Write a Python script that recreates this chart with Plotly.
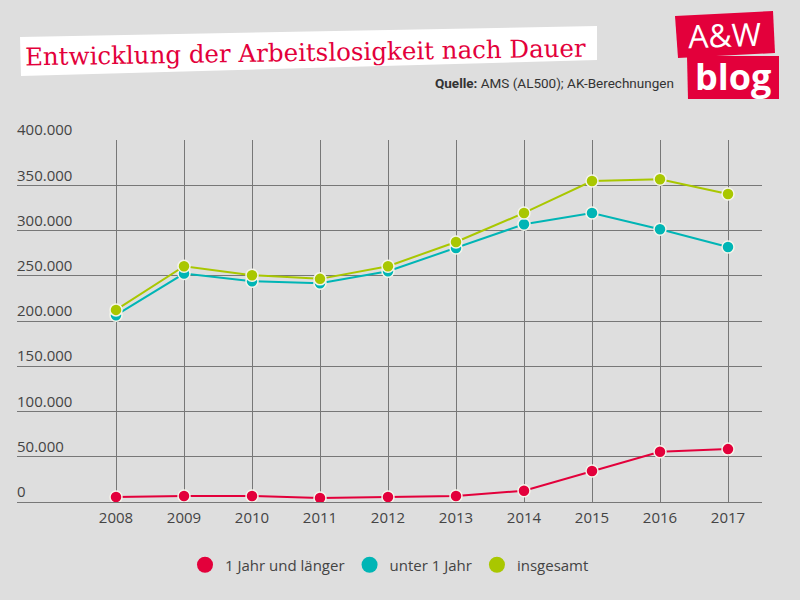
import plotly.graph_objects as go

years = [2008, 2009, 2010, 2011, 2012, 2013, 2014, 2015, 2016, 2017]
lang = [5500, 6600, 6600, 4400, 5500, 6600, 12500, 34300, 55600, 58500]
unter = [206600, 252700, 244200, 242000, 255200, 281000, 307200, 319700, 301700, 282100]
gesamt = [212500, 260800, 250800, 246800, 260800, 287600, 319700, 355000, 356900, 340700]
names = ["1 Jahr und länger", "unter 1 Jahr", "insgesamt"]
colors = ["#e3003b", "#00b5b5", "#a9c700"]
yticks = [0, 50000, 100000, 150000, 200000, 250000, 300000, 350000, 400000]
ylabels = ["0", "50.000", "100.000", "150.000", "200.000", "250.000", "300.000", "350.000", "400.000"]

W, H = 800, 600
L, R, T, B = 17, 762, 140, 502


def px(x):
    return (x - L) / (R - L)


def py(y):
    return (B - y) / (B - T)


def poly(pts):
    return "M " + " L ".join(f"{px(x):.5f},{py(y):.5f}" for x, y in pts) + " Z"


fig = go.Figure()
for vals, name, col in zip([lang, unter, gesamt], names, colors):
    fig.add_trace(go.Scatter(
        x=years, y=vals, mode="lines+markers", name=name, showlegend=False,
        line=dict(color=col, width=2),
        marker=dict(color=col, size=12, line=dict(color="#f4f4ea", width=1.5)),
    ))
for name, col in zip(names, colors):
    fig.add_trace(go.Scatter(
        x=[None], y=[None], mode="markers", name=name,
        marker=dict(color=col, size=16),
    ))

shapes = [
    dict(type="path", xref="paper", yref="paper",
         path=poly([(20, 37), (597, 26), (597, 60), (21, 76)]),
         fillcolor="white", line=dict(width=0), layer="below"),
    dict(type="path", xref="paper", yref="paper",
         path=poly([(675, 16), (773, 11), (775, 53), (678, 58)]),
         fillcolor="#e3003b", line=dict(width=0)),
    dict(type="path", xref="paper", yref="paper",
         path=poly([(687, 56), (779, 56), (779, 99), (688, 99)]),
         fillcolor="#e3003b", line=dict(width=0)),
]

annotations = [
    dict(text="Entwicklung der Arbeitslosigkeit nach Dauer", xref="paper", yref="paper",
         x=px(305), y=py(53), xanchor="center", yanchor="middle", showarrow=False,
         textangle=-0.9, font=dict(family="DejaVu Serif, serif", size=24.5, color="#e3003b")),
    dict(text="<b>Quelle:</b> AMS (AL500); AK-Berechnungen", xref="paper", yref="paper",
         x=px(676), y=py(83), xanchor="right", yanchor="middle", showarrow=False,
         font=dict(family="Roboto, sans-serif", size=13.5, color="#333333")),
    dict(text="A&amp;W", xref="paper", yref="paper",
         x=px(725), y=py(35), xanchor="center", yanchor="middle", showarrow=False,
         textangle=-2, font=dict(family="Open Sans, sans-serif", size=32, color="white")),
    dict(text="<b>blog</b>", xref="paper", yref="paper",
         x=px(733), y=py(76), xanchor="center", yanchor="middle", showarrow=False,
         font=dict(family="Open Sans, sans-serif", size=36, color="white")),
]
for v, lab in zip(yticks, ylabels):
    annotations.append(dict(
        text=lab, xref="paper", yref="y", x=0, y=v, xanchor="left", yanchor="bottom",
        showarrow=False, xshift=-2, yshift=-1,
        font=dict(family="Open Sans, sans-serif", size=15, color="#444444")))

fig.update_layout(
    width=W, height=H,
    margin=dict(l=L, r=W - R, t=T, b=H - B, pad=0),
    paper_bgcolor="#dedede", plot_bgcolor="#dedede",
    separators=",.",
    font=dict(family="Open Sans, sans-serif", size=15, color="#444444"),
    showlegend=True,
    legend=dict(orientation="h", x=0.5, xanchor="center", y=py(565), yanchor="middle",
                font=dict(size=15, color="#444444"), bgcolor="rgba(0,0,0,0)",
                itemsizing="trace"),
    shapes=shapes, annotations=annotations,
    xaxis=dict(range=[2006.544, 2017.5], tickvals=years, ticktext=[str(y) for y in years],
               showgrid=True, gridcolor="#777777", gridwidth=1, zeroline=False,
               showline=False, ticks="", ticklabelstandoff=5, fixedrange=True),
    yaxis=dict(range=[0, 400400], tickvals=yticks, showticklabels=False,
               showgrid=True, gridcolor="#777777", gridwidth=1,
               zeroline=True, zerolinecolor="#777777", zerolinewidth=1,
               showline=False, ticks="", fixedrange=True),
)

fig.write_html("out.html")
